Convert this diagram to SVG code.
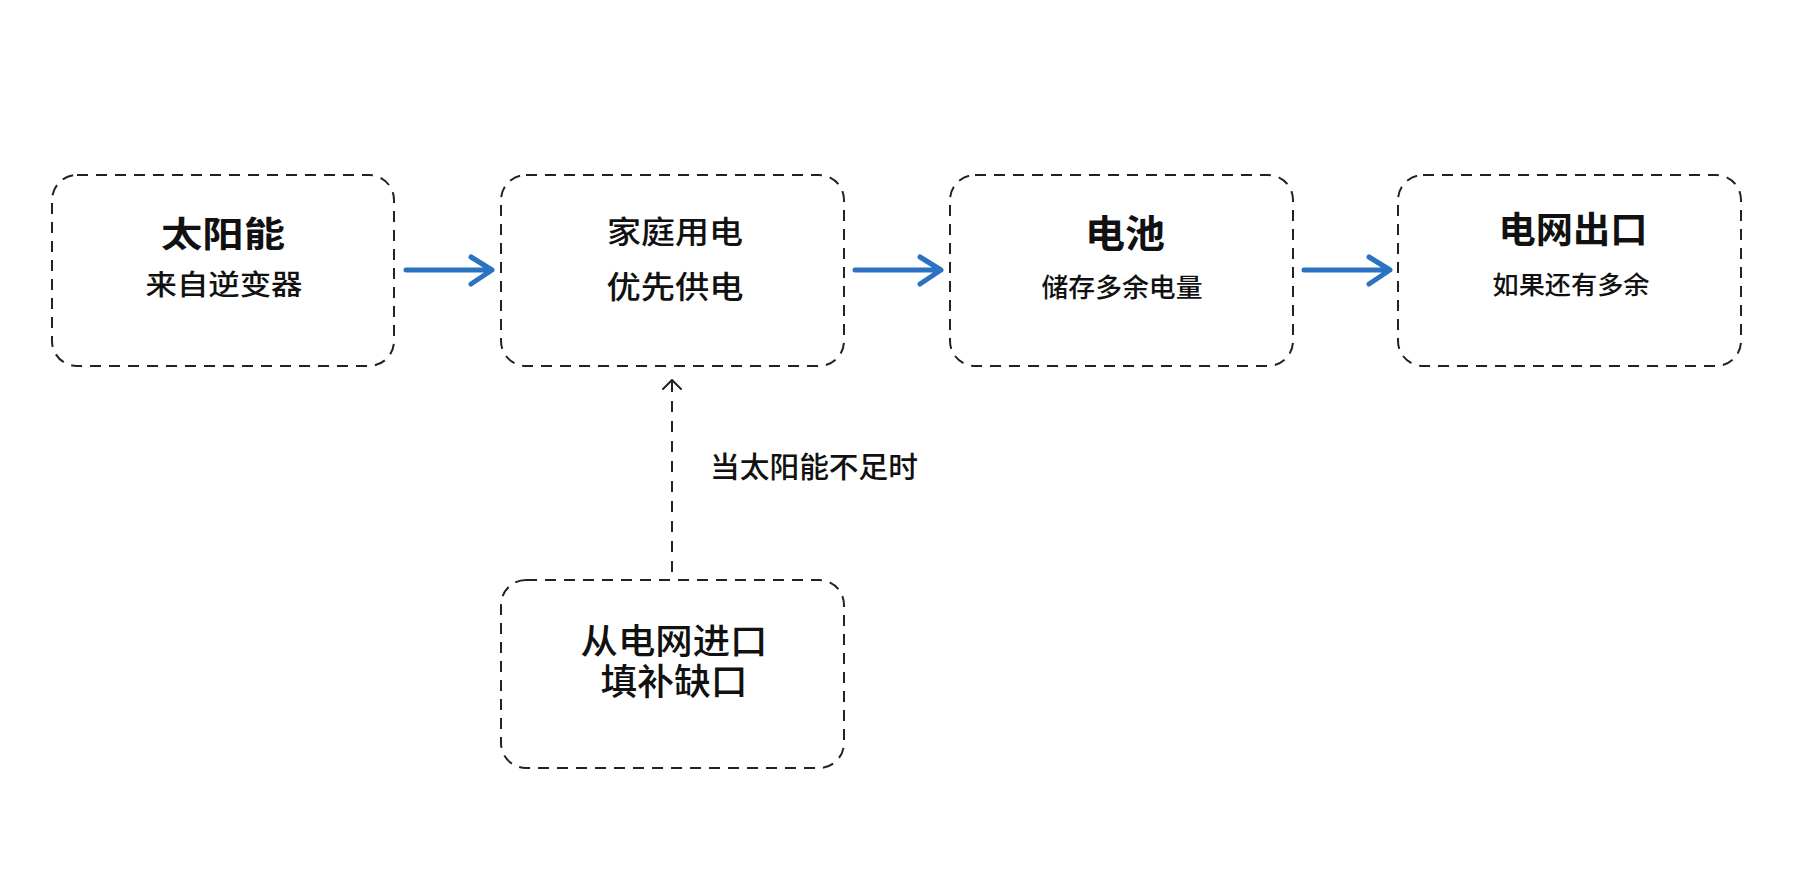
<svg xmlns="http://www.w3.org/2000/svg" width="1796" height="876" viewBox="0 0 1796 876">
<defs>
<style>
.box{fill:none;stroke:#222;stroke-width:2;stroke-dasharray:11 8}
.t{font-family:"Noto Sans CJK SC","Noto Sans",sans-serif;fill:#111;text-anchor:middle}
.b{font-weight:700}
.m{font-weight:500}
.flow{stroke:#2B72C2;stroke-width:5;fill:none;stroke-linecap:round;stroke-linejoin:round}
.dash{stroke:#222;stroke-width:2;fill:none;stroke-dasharray:11 9}
.head{stroke:#222;stroke-width:2;fill:none;stroke-linecap:round;stroke-linejoin:round}
</style>
</defs>
<rect width="1796" height="876" fill="#fff"/>
<g id="solar">
<rect class="box" x="52" y="175" width="342" height="191" rx="25"/>
<text class="t b" x="223" y="247" font-size="35" textLength="124" lengthAdjust="spacingAndGlyphs">太阳能</text>
<text class="t m" x="224" y="295" font-size="28" textLength="157" lengthAdjust="spacingAndGlyphs">来自逆变器</text>
</g>
<g id="home">
<rect class="box" x="501" y="175" width="343" height="191" rx="25"/>
<text class="t m" x="675" y="243" font-size="31" textLength="136" lengthAdjust="spacingAndGlyphs">家庭用电</text>
<text class="t m" x="675" y="298" font-size="31" textLength="137" lengthAdjust="spacingAndGlyphs">优先供电</text>
</g>
<g id="battery">
<rect class="box" x="950" y="175" width="343" height="191" rx="25"/>
<text class="t b" x="1125" y="247" font-size="38" textLength="80" lengthAdjust="spacingAndGlyphs">电池</text>
<text class="t m" x="1122" y="297" font-size="26" textLength="161" lengthAdjust="spacingAndGlyphs">储存多余电量</text>
</g>
<g id="gridout">
<rect class="box" x="1398" y="175" width="343" height="191" rx="25"/>
<text class="t b" x="1573" y="243" font-size="36" textLength="149" lengthAdjust="spacingAndGlyphs">电网出口</text>
<text class="t m" x="1571" y="294" font-size="25" textLength="157" lengthAdjust="spacingAndGlyphs">如果还有多余</text>
</g>
<g id="gridin">
<rect class="box" x="501" y="580" width="343" height="188" rx="25"/>
<text class="t m" x="674" y="654" font-size="35" textLength="187" lengthAdjust="spacingAndGlyphs">从电网进口</text>
<text class="t m" x="674" y="695" font-size="36" textLength="147" lengthAdjust="spacingAndGlyphs">填补缺口</text>
</g>
<g id="connectors">
<path class="flow" d="M406 270H492M471 257L492 270L471 284"/>
<path class="flow" d="M855 270H941M920 257L941 270L920 284"/>
<path class="flow" d="M1304 270H1390M1369 257L1390 270L1369 284"/>
<path class="dash" d="M672 381V572"/>
<path class="head" d="M663 389L672 380L681 389"/>
<text class="t m" x="710" y="477.5" font-size="29" textLength="208" lengthAdjust="spacingAndGlyphs" style="text-anchor:start">当太阳能不足时</text>
</g>
</svg>
